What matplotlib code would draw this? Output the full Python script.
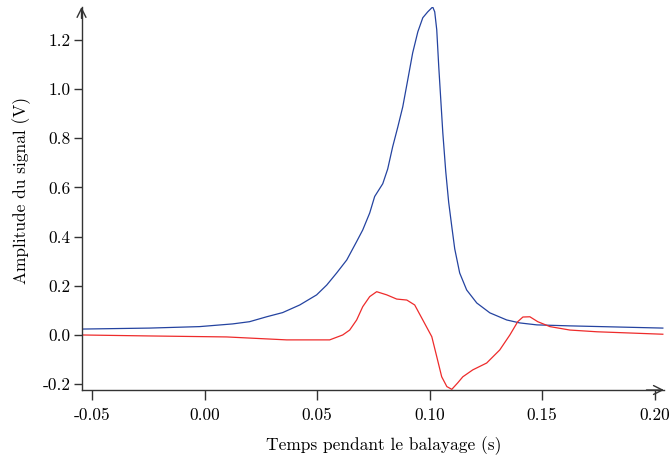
import numpy as np
import matplotlib
matplotlib.use('Agg')
import matplotlib.pyplot as plt

plt.rcParams['font.family'] = 'serif'
plt.rcParams['font.serif'] = ['cmr10']
plt.rcParams['axes.formatter.use_mathtext'] = True

# blue trace : signal amplitude (V) vs time (s)
t_blue = [-0.0547, -0.0245, -0.0022, 0.0125, 0.020, 0.0276, 0.0347, 0.0423, 0.0498,
          0.0543, 0.0587, 0.0632, 0.0676, 0.0703, 0.0734, 0.0756, 0.0792, 0.0814,
          0.0836, 0.0859, 0.0881, 0.0903, 0.0925, 0.0948, 0.0970, 0.0992, 0.1014,
          0.1023, 0.1032, 0.1041, 0.1050, 0.1059, 0.1072, 0.1085, 0.1099, 0.1112,
          0.1134, 0.1165, 0.1210, 0.1268, 0.1343, 0.1401, 0.1477, 0.1624, 0.2037]
v_blue = [0.024, 0.028, 0.034, 0.045, 0.054, 0.074, 0.091, 0.122, 0.163,
          0.203, 0.252, 0.305, 0.380, 0.427, 0.496, 0.563, 0.615, 0.675,
          0.765, 0.846, 0.928, 1.037, 1.147, 1.233, 1.290, 1.314, 1.334,
          1.314, 1.241, 1.090, 0.956, 0.822, 0.665, 0.540, 0.440, 0.350,
          0.252, 0.183, 0.130, 0.090, 0.061, 0.049, 0.041, 0.037, 0.028]

# red trace
t_red = [-0.0547, -0.0245, 0.0098, 0.0365, 0.0556, 0.0614, 0.0645, 0.0676, 0.0703,
         0.0734, 0.0765, 0.0810, 0.0854, 0.0899, 0.0934, 0.0970, 0.1010, 0.1032,
         0.1054, 0.1077, 0.1099, 0.1125, 0.1148, 0.1192, 0.1254, 0.1312, 0.1357,
         0.1392, 0.1415, 0.1446, 0.1481, 0.1535, 0.1624, 0.1744, 0.2037]
v_red = [0.0, -0.004, -0.008, -0.020, -0.020, 0.0, 0.020, 0.061, 0.115,
         0.156, 0.176, 0.163, 0.146, 0.142, 0.122, 0.061, -0.007, -0.088,
         -0.170, -0.210, -0.221, -0.195, -0.170, -0.142, -0.114, -0.061, 0.0,
         0.054, 0.073, 0.074, 0.054, 0.034, 0.020, 0.013, 0.003]

xticks = [-0.05, 0.0, 0.05, 0.10, 0.15, 0.20]
xtick_labels = ['-0.05', '0.00', '0.05', '0.10', '0.15', '0.20']
yticks = [-0.2, 0.0, 0.2, 0.4, 0.6, 0.8, 1.0, 1.2]
ytick_labels = ['-0.2', '0.0', '0.2', '0.4', '0.6', '0.8', '1.0', '1.2']

fig = plt.figure(figsize=(6.71, 4.61), dpi=100)
ax = fig.add_axes([0.1215, 0.154, 0.868, 0.831])

ax.plot(t_blue, v_blue, color='#2443a0', lw=0.9)
ax.plot(t_red, v_red, color='#ee2b2b', lw=0.9)

ax.set_xlim(-0.0547, 0.2042)
ax.set_ylim(-0.2238, 1.334)

for s in ['top', 'right']:
    ax.spines[s].set_visible(False)
for s in ['left', 'bottom']:
    ax.spines[s].set_color('#333333')
    ax.spines[s].set_linewidth(1.0)

# arrow heads at the ends of the axes
ax.annotate('', xy=(1.0, 0), xytext=(0.97, 0), xycoords='axes fraction',
            arrowprops=dict(arrowstyle='->', color='#333333', lw=1.0,
                            mutation_scale=16, shrinkA=0, shrinkB=0))
ax.annotate('', xy=(0, 1.0), xytext=(0, 0.97), xycoords='axes fraction',
            arrowprops=dict(arrowstyle='->', color='#333333', lw=1.0,
                            mutation_scale=16, shrinkA=0, shrinkB=0))

ax.set_xticks(xticks)
ax.set_xticklabels(xtick_labels)
ax.set_yticks(yticks)
ax.set_yticklabels(ytick_labels)
ax.tick_params(axis='x', direction='out', length=7, width=1.0, color='#333333',
               pad=6, labelsize=12.5)
ax.tick_params(axis='y', direction='out', length=6, width=1.0, color='#333333',
               pad=2, labelsize=12.5)

ax.set_xlabel('Temps pendant le balayage (s)', fontsize=12.5)
ax.set_ylabel('Amplitude du signal (V)', fontsize=12.5)
ax.xaxis.set_label_coords(0.519, -0.12)
ax.yaxis.set_label_coords(-0.086, 0.52)

plt.savefig('out.png', dpi=100)
